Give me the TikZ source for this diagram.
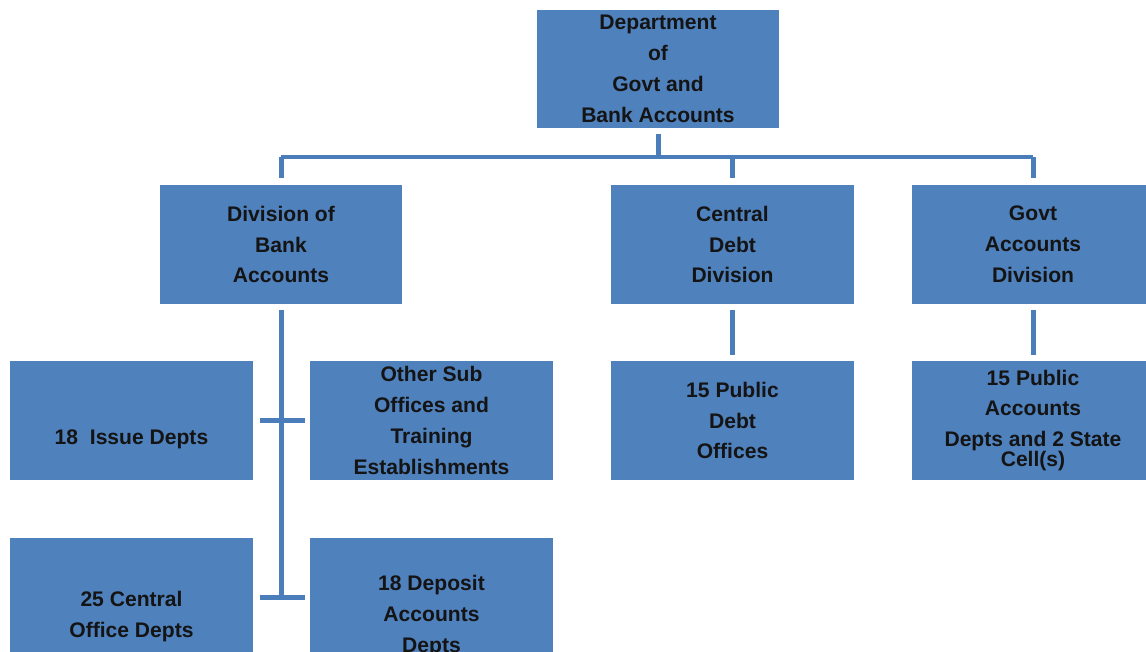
\documentclass[tikz,border=0pt]{standalone}
\usepackage{fontspec}
\setmainfont{Liberation Sans}
\usepackage{xcolor}
\usetikzlibrary{positioning, calc}
\definecolor{boxblue}{HTML}{4F81BD}
\definecolor{lineblue}{HTML}{4A7DBA}
\definecolor{boxtext}{HTML}{141414}

\begin{document}
\begin{tikzpicture}[x=0.02cm, y=-0.02cm,
    unit/.style={fill=boxblue, minimum width=4.86cm, minimum height=2.38cm, inner sep=0pt, align=center, text=boxtext, font=\fontsize{12}{17.6}\selectfont\bfseries},
    link/.style={draw=lineblue, line width=0.1cm}]
    \useasboundingbox (0,0) rectangle (1146,652);
    \clip (0,0) rectangle (1146,652);

    % Department box
    \node[unit] (dept) at (658,69) {Department\\of\\Govt and\\Bank Accounts};

    % Divisions
    \node[unit] (bank) at (281,244.5) {Division of\\Bank\\Accounts};
    \node[unit] (debt) at (732.5,244.5) {Central\\Debt\\Division};
    \node[unit] (govt) at (1033,244.5) {Govt\\Accounts\\Division};

    % Offices
    \node[unit] (issue) at (131.5,420.5) {\strut\\18~~Issue Depts};
    \node[unit] (subof) at (431.5,420.5) {Other Sub\\Offices and\\Training\\Establishments};
    \node[unit] (pdo) at (732.5,420.5) {15 Public\\Debt\\Offices};
    \node[unit] (pad) at (1033,420.5) {15 Public\\Accounts\\Depts and 2 State\\[-0.22cm]Cell(s)};
    \node[unit] (cod) at (131.5,597.5) {\strut\\25 Central\\Office Depts};
    \node[unit] (dad) at (431.5,597.5) {\strut\\18 Deposit\\Accounts\\Depts};

    % Top level connectors
    \coordinate (bar) at (0,157);
    \draw[link, shorten <=0.1cm] (dept.south) -- (dept.south |- bar);
    \draw[link] (bank.north |- bar) -- (govt.north |- bar);
    \draw[link, shorten >=0.14cm] (bank.north |- bar) -- (bank.north);
    \draw[link, shorten >=0.14cm] (debt.north |- bar) -- (debt.north);
    \draw[link, shorten >=0.14cm] (govt.north |- bar) -- (govt.north);

    % Division connectors
    \draw[link, shorten <=0.12cm] (bank.south) -- (bank.south |- cod.east);
    \draw[link, shorten <=0.14cm, shorten >=0.1cm] (issue.east) -- (subof.west);
    \draw[link, shorten <=0.14cm, shorten >=0.1cm] (cod.east) -- (dad.west);
    \draw[link, shorten <=0.12cm, shorten >=0.12cm] (debt.south) -- (pdo.north);
    \draw[link, shorten <=0.12cm, shorten >=0.12cm] (govt.south) -- (pad.north);
\end{tikzpicture}
\end{document}
